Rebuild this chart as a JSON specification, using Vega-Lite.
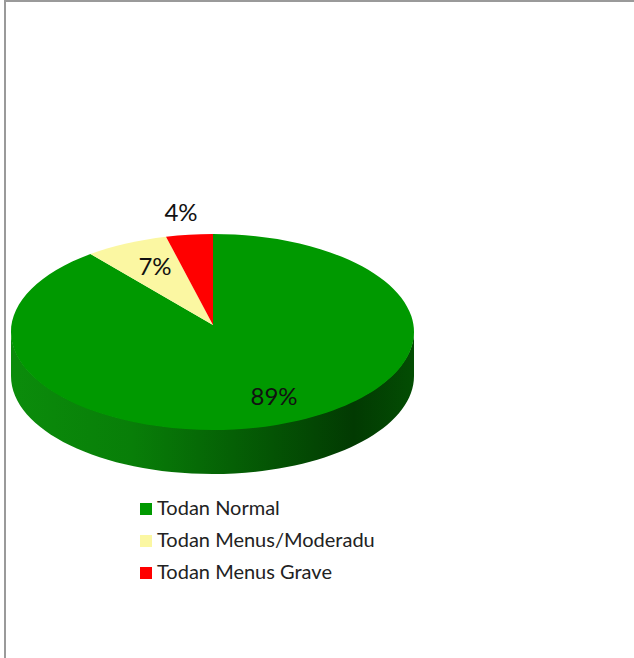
{
  "$schema": "https://vega.github.io/schema/vega-lite/v6.json",
  "width": 426,
  "height": 650,
  "padding": {"left": 0, "top": 0, "right": 208, "bottom": 8},
  "autosize": "none",
  "background": "white",
  "view": {"stroke": null},
  "data": {"values": [
    {"category": "Todan Normal", "share": 0.89},
    {"category": "Todan Menus/Moderadu", "share": 0.07},
    {"category": "Todan Menus Grave", "share": 0.04}
  ]},
  "resolve": {"legend": {"color": "independent"}},
  "layer": [
    {
      "transform": [{"filter": "datum.category === 'Todan Normal'"}],
      "mark": {"type": "point", "filled": false, "opacity": 1, "size": 4, "stroke": "#9a9a9a", "strokeWidth": 2,
        "shape": "M-208,333 L-208,-324 L421,-324"},
      "encoding": {}
    },
    {
      "transform": [{"filter": "datum.category === 'Todan Normal'"}],
      "mark": {"type": "point", "filled": true, "opacity": 1, "size": 4,
        "shape": "M-202,6 A201.5,98 0 0 0 201,6 L201,51 A201.5,98 0 0 1 -202,51 Z",
        "fill": {"gradient": "linear", "x1": 0, "y1": 0, "x2": 1, "y2": 0, "stops": [
          {"offset": 0, "color": "#0b8c0b"},
          {"offset": 0.3, "color": "#087e08"},
          {"offset": 0.55, "color": "#056005"},
          {"offset": 0.85, "color": "#023a02"},
          {"offset": 1, "color": "#034d03"}
        ]}},
      "encoding": {}
    },
    {
      "transform": [{"filter": "datum.category === 'Todan Normal'"}],
      "mark": {"type": "point", "filled": true, "opacity": 1, "size": 4, "shape": "M0,0 L0,-91 A201.5,98 0 1 1 -122.5,-71 Z"},
      "encoding": {"color": {"field": "category", "type": "nominal", "legend": null,
        "scale": {"domain": ["Todan Normal", "Todan Menus/Moderadu", "Todan Menus Grave"], "range": ["#009900", "#FBF7A2", "#FF0000"]}}}
    },
    {
      "transform": [{"filter": "datum.category === 'Todan Menus/Moderadu'"}],
      "mark": {"type": "point", "filled": true, "opacity": 1, "size": 4, "shape": "M0,0 L-122.5,-71 A201.5,98 0 0 1 -47,-88.35 Z"},
      "encoding": {"color": {"field": "category", "type": "nominal", "legend": null,
        "scale": {"domain": ["Todan Normal", "Todan Menus/Moderadu", "Todan Menus Grave"], "range": ["#009900", "#FBF7A2", "#FF0000"]}}}
    },
    {
      "transform": [{"filter": "datum.category === 'Todan Menus Grave'"}],
      "mark": {"type": "point", "filled": true, "opacity": 1, "size": 4, "shape": "M0,0 L-47,-88.35 A201.5,98 0 0 1 0,-91 Z"},
      "encoding": {"color": {"field": "category", "type": "nominal", "legend": null,
        "scale": {"domain": ["Todan Normal", "Todan Menus/Moderadu", "Todan Menus Grave"], "range": ["#009900", "#FBF7A2", "#FF0000"]}}}
    },
    {
      "mark": {"type": "square", "size": 0, "opacity": 1},
      "encoding": {
        "color": {
          "field": "category", "type": "nominal",
          "scale": {"domain": ["Todan Normal", "Todan Menus/Moderadu", "Todan Menus Grave"], "range": ["#009900", "#FBF7A2", "#FF0000"]},
          "legend": {
            "title": null, "orient": "none", "legendX": 136, "legendY": 499,
            "symbolType": "square", "symbolSize": 144, "symbolStrokeWidth": 0, "symbolOpacity": 1,
            "labelFont": "Lato", "labelFontSize": 20, "labelColor": "#222222", "labelOffset": 1,
            "rowPadding": 12, "labelLimit": 300
          }
        }
      }
    },
    {
      "transform": [{"filter": "datum.category === 'Todan Normal'"}],
      "mark": {"type": "text", "font": "Lato", "fontSize": 24, "color": "#111111", "dx": 61, "dy": 73},
      "encoding": {"text": {"field": "share", "type": "quantitative", "format": ".0%"}}
    },
    {
      "transform": [{"filter": "datum.category === 'Todan Menus/Moderadu'"}],
      "mark": {"type": "text", "font": "Lato", "fontSize": 24, "color": "#111111", "dx": -58, "dy": -57},
      "encoding": {"text": {"field": "share", "type": "quantitative", "format": ".0%"}}
    },
    {
      "transform": [{"filter": "datum.category === 'Todan Menus Grave'"}],
      "mark": {"type": "text", "font": "Lato", "fontSize": 24, "color": "#111111", "dx": -32, "dy": -111},
      "encoding": {"text": {"field": "share", "type": "quantitative", "format": ".0%"}}
    }
  ]
}
